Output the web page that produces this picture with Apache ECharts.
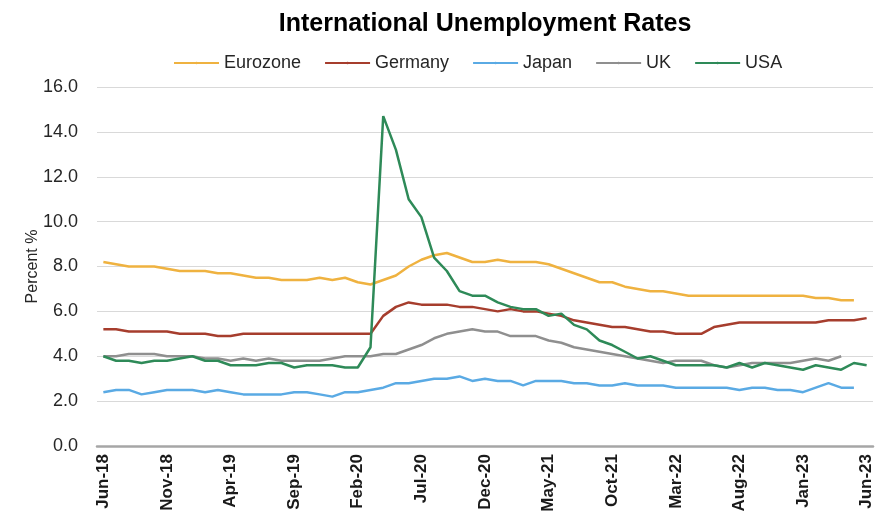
<!DOCTYPE html>
<html>
<head>
<meta charset="utf-8">
<script src="https://cdn.jsdelivr.net/npm/echarts@6/dist/echarts.min.js"></script>
<style>
  html, body { margin: 0; padding: 0; background: #ffffff; }
  #chart { width: 884px; height: 515px; }
</style>
</head>
<body>
<div id="chart"></div>
<script>
// Monthly observations, Jun-18 through Jun-23
const months = [
  'Jun-18','Jul-18','Aug-18','Sep-18','Oct-18','Nov-18','Dec-18',
  'Jan-19','Feb-19','Mar-19','Apr-19','May-19','Jun-19','Jul-19','Aug-19','Sep-19','Oct-19','Nov-19','Dec-19',
  'Jan-20','Feb-20','Mar-20','Apr-20','May-20','Jun-20','Jul-20','Aug-20','Sep-20','Oct-20','Nov-20','Dec-20',
  'Jan-21','Feb-21','Mar-21','Apr-21','May-21','Jun-21','Jul-21','Aug-21','Sep-21','Oct-21','Nov-21','Dec-21',
  'Jan-22','Feb-22','Mar-22','Apr-22','May-22','Jun-22','Jul-22','Aug-22','Sep-22','Oct-22','Nov-22','Dec-22',
  'Jan-23','Feb-23','Mar-23','Apr-23','May-23','Jun-23'
];

const eurozone = [
  8.2, 8.1, 8.0, 8.0, 8.0, 7.9, 7.8,
  7.8, 7.8, 7.7, 7.7, 7.6, 7.5, 7.5, 7.4, 7.4, 7.4, 7.5, 7.4,
  7.5, 7.3, 7.2, 7.4, 7.6, 8.0, 8.3, 8.5, 8.6, 8.4, 8.2, 8.2,
  8.3, 8.2, 8.2, 8.2, 8.1, 7.9, 7.7, 7.5, 7.3, 7.3, 7.1, 7.0,
  6.9, 6.9, 6.8, 6.7, 6.7, 6.7, 6.7, 6.7, 6.7, 6.7, 6.7, 6.7,
  6.7, 6.6, 6.6, 6.5, 6.5, null
];

const germany = [
  5.2, 5.2, 5.1, 5.1, 5.1, 5.1, 5.0,
  5.0, 5.0, 4.9, 4.9, 5.0, 5.0, 5.0, 5.0, 5.0, 5.0, 5.0, 5.0,
  5.0, 5.0, 5.0, 5.8, 6.2, 6.4, 6.3, 6.3, 6.3, 6.2, 6.2, 6.1,
  6.0, 6.1, 6.0, 6.0, 5.9, 5.8, 5.6, 5.5, 5.4, 5.3, 5.3, 5.2,
  5.1, 5.1, 5.0, 5.0, 5.0, 5.3, 5.4, 5.5, 5.5, 5.5, 5.5, 5.5,
  5.5, 5.5, 5.6, 5.6, 5.6, 5.7
];

const japan = [
  2.4, 2.5, 2.5, 2.3, 2.4, 2.5, 2.5,
  2.5, 2.4, 2.5, 2.4, 2.3, 2.3, 2.3, 2.3, 2.4, 2.4, 2.3, 2.2,
  2.4, 2.4, 2.5, 2.6, 2.8, 2.8, 2.9, 3.0, 3.0, 3.1, 2.9, 3.0,
  2.9, 2.9, 2.7, 2.9, 2.9, 2.9, 2.8, 2.8, 2.7, 2.7, 2.8, 2.7,
  2.7, 2.7, 2.6, 2.6, 2.6, 2.6, 2.6, 2.5, 2.6, 2.6, 2.5, 2.5,
  2.4, 2.6, 2.8, 2.6, 2.6, null
];

const uk = [
  4.0, 4.0, 4.1, 4.1, 4.1, 4.0, 4.0,
  4.0, 3.9, 3.9, 3.8, 3.9, 3.8, 3.9, 3.8, 3.8, 3.8, 3.8, 3.9,
  4.0, 4.0, 4.0, 4.1, 4.1, 4.3, 4.5, 4.8, 5.0, 5.1, 5.2, 5.1,
  5.1, 4.9, 4.9, 4.9, 4.7, 4.6, 4.4, 4.3, 4.2, 4.1, 4.0, 3.9,
  3.8, 3.7, 3.8, 3.8, 3.8, 3.6, 3.5, 3.6, 3.7, 3.7, 3.7, 3.7,
  3.8, 3.9, 3.8, 4.0, null, null
];

const usa = [
  4.0, 3.8, 3.8, 3.7, 3.8, 3.8, 3.9,
  4.0, 3.8, 3.8, 3.6, 3.6, 3.6, 3.7, 3.7, 3.5, 3.6, 3.6, 3.6,
  3.5, 3.5, 4.4, 14.7, 13.2, 11.0, 10.2, 8.4, 7.8, 6.9, 6.7, 6.7,
  6.4, 6.2, 6.1, 6.1, 5.8, 5.9, 5.4, 5.2, 4.7, 4.5, 4.2, 3.9,
  4.0, 3.8, 3.6, 3.6, 3.6, 3.6, 3.5, 3.7, 3.5, 3.7, 3.6, 3.5,
  3.4, 3.6, 3.5, 3.4, 3.7, 3.6
];

const seriesNames = ['Eurozone', 'Germany', 'Japan', 'UK', 'USA'];
const seriesData = [eurozone, germany, japan, uk, usa];
const seriesColors = ['#EFB240', '#A63D2D', '#5AAAE4', '#8F8F8F', '#2E8A58'];

const FONT = 'Liberation Sans, Arial, sans-serif';

const chart = echarts.init(document.getElementById('chart'), null, { renderer: 'canvas' });

chart.setOption({
  animation: false,
  backgroundColor: '#ffffff',
  title: {
    text: 'International Unemployment Rates',
    left: 485,
    top: 12,
    textAlign: 'center',
    padding: 0,
    textStyle: {
      fontFamily: FONT,
      fontSize: 25,
      fontWeight: 'bold',
      color: '#000000'
    }
  },
  legend: {
    data: seriesNames,
    top: 54,
    left: 173,
    padding: 0,
    itemWidth: 45,
    itemHeight: 3,
    itemGap: 23,
    textStyle: {
      fontFamily: FONT,
      fontSize: 18,
      color: '#262626'
    }
  },
  grid: {
    left: 97,
    right: 11,
    top: 87,
    bottom: 69,
    containLabel: false
  },
  xAxis: {
    type: 'category',
    data: months,
    boundaryGap: true,
    axisLine: { lineStyle: { color: '#A6A6A6', width: 2.5 } },
    axisTick: { show: false },
    axisLabel: {
      interval: 4,
      rotate: 90,
      margin: 8,
      fontFamily: FONT,
      fontSize: 17,
      fontWeight: 'bold',
      color: '#1a1a1a'
    }
  },
  yAxis: {
    type: 'value',
    min: 0,
    max: 16,
    interval: 2,
    name: 'Percent %',
    nameLocation: 'middle',
    nameGap: 56,
    nameMoveOverlap: false,
    nameTextStyle: {
      fontFamily: FONT,
      fontSize: 16,
      color: '#262626'
    },
    axisLine: { show: false },
    axisTick: { show: false },
    axisLabel: {
      margin: 19,
      fontFamily: FONT,
      fontSize: 18,
      color: '#262626',
      formatter: v => v.toFixed(1)
    },
    splitLine: { lineStyle: { color: '#D9D9D9', width: 1 } }
  },
  series: seriesNames.map((name, i) => ({
    name: name,
    type: 'line',
    data: seriesData[i],
    symbol: 'none',
    connectNulls: false,
    color: seriesColors[i],
    lineStyle: { width: 2.5, color: seriesColors[i] },
    z: i === 4 ? 5 : 2
  }))
});
</script>
</body>
</html>
